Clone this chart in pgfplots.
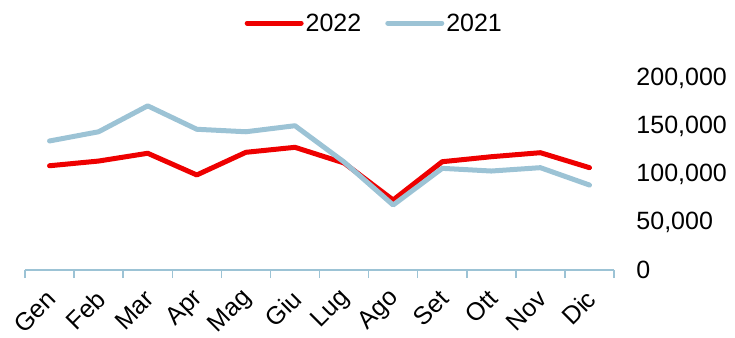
\documentclass[border=0pt]{standalone}
\usepackage{pgfplots}
\pgfplotsset{compat=1.18}
\usepackage{fontspec}
\setmainfont{Liberation Sans}
\definecolor{red22}{HTML}{EE0000}
\definecolor{blue21}{HTML}{9CC3D5}
\begin{document}
\begin{tikzpicture}[x=1bp,y=1bp]
\begin{axis}[
  scale only axis,
  width=589bp, height=192bp,
  xmin=-0.5, xmax=11.5,
  ymin=0, ymax=200000,
  clip=false,
  font=\fontsize{25bp}{30bp}\selectfont,
  axis x line*=bottom,
  axis y line*=right,
  y axis line style={draw=none},
  x axis line style={draw=blue21, line width=1.5bp},
  xtick={0,...,11},
  xticklabels={Gen,Feb,Mar,Apr,Mag,Giu,Lug,Ago,Set,Ott,Nov,Dic},
  major x tick style={draw=none},
  minor xtick={-0.5,0.5,...,11.5},
  minor x tick style={draw=blue21, line width=1.5bp},
  minor tick length=8bp,
  tick align=outside,
  xticklabel style={rotate=45, anchor=east, inner sep=0pt, yshift=-16bp, xshift=-13bp},
  ytick={0,50000,100000,150000,200000},
  yticklabels={0,{50,000},{100,000},{150,000},{200,000}},
  scaled y ticks=false,
  major y tick style={draw=none},
  yticklabel pos=right,
  yticklabel style={anchor=west, inner sep=0pt, xshift=18bp},
  legend columns=2,
  legend style={draw=none, fill=none, at={(rel axis cs:0.593,1.286)}, anchor=center,
    font=\fontsize{25bp}{30bp}\selectfont,
    /tikz/every even column/.append style={column sep=22bp},
    inner sep=0pt},
  legend image code/.code={\draw[#1, line cap=round] (0bp,0bp) -- (54bp,0bp);},
]
\path (rel axis cs:-0.04244,-0.34375) rectangle (rel axis cs:1.2054,1.40625);
\addplot[red22, line width=5bp, line join=round, line cap=round] coordinates {
(0,108600) (1,113500) (2,121600) (3,99000) (4,122600) (5,127800)
(6,111500) (7,72900) (8,112800) (9,118000) (10,122200) (11,106600)};
\addlegendentry{2022}
\addplot[blue21, line width=5bp, line join=round, line cap=round] coordinates {
(0,134400) (1,144000) (2,171000) (3,146600) (4,144000) (5,150300)
(6,112500) (7,67700) (8,105900) (9,103100) (10,106600) (11,88500)};
\addlegendentry{2021}
\end{axis}
\end{tikzpicture}
\end{document}
